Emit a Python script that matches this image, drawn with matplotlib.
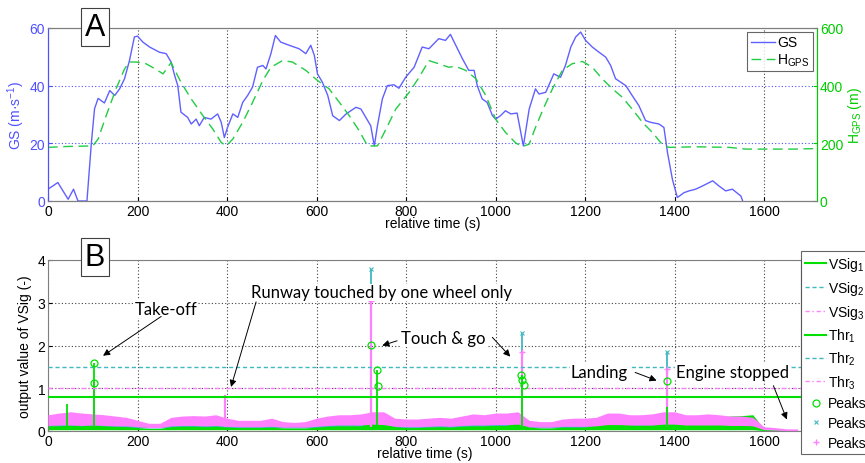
import numpy as np
import matplotlib
matplotlib.use("Agg")
import matplotlib.pyplot as plt

plt.rcParams['font.family'] = ['Liberation Sans', 'DejaVu Sans']
plt.rcParams['mathtext.fontset'] = 'custom'
plt.rcParams['mathtext.rm'] = 'Liberation Sans'
plt.rcParams['mathtext.it'] = 'Liberation Sans:italic'

# ---------------- Panel A data ----------------
gs_t = [0, 22, 45, 57, 67, 87, 97, 104, 112, 126, 138, 149, 160, 171, 182, 193, 200, 212, 227, 249, 264,
        275, 283, 290, 297, 312, 320, 331, 338, 349, 364, 379, 387, 394, 401, 413, 424, 435, 446, 457,
        468, 480, 487, 498, 508, 520, 539, 561, 576, 587, 595, 602, 613, 625, 636, 651, 666, 688, 699,
        710, 721, 729, 736, 747, 758, 773, 784, 799, 818, 836, 851, 873, 888, 899, 911, 926, 940, 952,
        959, 970, 981, 993, 1000, 1011, 1022, 1034, 1048, 1062, 1075, 1089, 1097, 1112, 1130, 1145,
        1156, 1168, 1179, 1190, 1201, 1216, 1231, 1246, 1257, 1268, 1291, 1305, 1320, 1335, 1346, 1365,
        1376, 1384, 1395, 1406, 1421, 1432, 1447, 1462, 1485, 1499, 1514, 1529, 1548, 1552]
gs_v = [4.1, 6.4, 0.6, 4.1, 0, 0, 20.3, 32, 35.6, 34, 38.3, 36.6, 38.9, 42.4, 48.7, 56.9, 57.2, 55.1,
        53.4, 51.6, 51.1, 48.2, 43.5, 40, 30.8, 29, 26.7, 28.4, 26.1, 29, 28.4, 30.2, 27.3, 22, 25.5,
        30.2, 29, 34.2, 36.6, 39.5, 46.4, 47, 45.8, 51.1, 57.4, 55.1, 54, 52.8, 51.1, 54, 50.5, 44.1,
        41.2, 36.6, 29.6, 27.9, 30.2, 32.5, 31.9, 29, 26.1, 19.1, 26.1, 35.4, 40, 40.3, 39.1, 42.9, 46.4,
        53.4, 52.8, 56.3, 55.7, 57.8, 54, 49.3, 45.3, 45.3, 40, 35.4, 34.2, 29.6, 28.4, 29.6, 31.3, 30.2,
        30.5, 19.1, 31.9, 38.9, 37.1, 37.7, 44.1, 42.9, 47, 53.4, 56.9, 58.6, 55.7, 53.4, 51.6, 49.9,
        47, 42.4, 40, 36.6, 33.1, 27.9, 27.3, 26.7, 25.5, 16.8, 7.5, 1.2, 2.9, 3.5, 4.1, 5.2, 7, 5.2,
        3.5, 4.1, 1.7, 0]

h_t = [0, 41, 100, 112, 130, 152, 171, 182, 197, 219, 242, 257, 275, 297, 320, 346, 368, 387, 398,
       413, 435, 457, 480, 498, 524, 546, 576, 602, 628, 651, 673, 695, 714, 736, 755, 777, 807, 829,
       851, 873, 895, 911, 933, 956, 978, 1000, 1022, 1045, 1060, 1075, 1089, 1108, 1127, 1149, 1171,
       1194, 1216, 1238, 1261, 1283, 1305, 1328, 1350, 1372, 1387, 1447, 1522, 1559, 1596, 1671, 1718]
h_v = [186, 189, 191, 215, 296, 389, 458, 482, 482, 476, 456, 441, 480, 412, 354, 296, 250, 203, 191,
       215, 273, 342, 418, 464, 487, 482, 453, 418, 389, 342, 296, 244, 191, 191, 249, 319, 377, 429,
       487, 476, 464, 467, 453, 424, 366, 284, 238, 201, 189, 197, 255, 325, 389, 453, 476, 484, 464,
       424, 389, 360, 319, 273, 238, 197, 186, 188, 186, 180, 180, 180, 182]

# ---------------- Panel B data ----------------
band_t = list(range(0, 1700, 25))
vsig3_hi = [0.38, 0.42, 0.45, 0.42, 0.40, 0.38, 0.35, 0.32, 0.25, 0.18, 0.18, 0.32, 0.35, 0.36, 0.35,
            0.38, 0.30, 0.25, 0.25, 0.25, 0.30, 0.22, 0.20, 0.22, 0.30, 0.35, 0.38, 0.38, 0.40, 0.45,
            0.45, 0.30, 0.28, 0.28, 0.30, 0.32, 0.30, 0.35, 0.40, 0.38, 0.42, 0.42, 0.45, 0.25, 0.22,
            0.22, 0.28, 0.30, 0.30, 0.32, 0.42, 0.42, 0.38, 0.38, 0.40, 0.45, 0.45, 0.38, 0.38, 0.40,
            0.38, 0.35, 0.35, 0.32, 0.10, 0.08, 0.05, 0.05]
vsig3_lo = [0.13, 0.14, 0.14, 0.13, 0.14, 0.13, 0.12, 0.12, 0.10, 0.08, 0.08, 0.12, 0.13, 0.13, 0.12,
            0.13, 0.11, 0.10, 0.10, 0.10, 0.11, 0.09, 0.09, 0.09, 0.11, 0.13, 0.14, 0.14, 0.14, 0.16,
            0.15, 0.11, 0.10, 0.10, 0.11, 0.12, 0.11, 0.13, 0.14, 0.14, 0.15, 0.15, 0.16, 0.10, 0.09,
            0.09, 0.11, 0.11, 0.11, 0.12, 0.15, 0.15, 0.14, 0.14, 0.14, 0.16, 0.16, 0.14, 0.14, 0.14,
            0.14, 0.13, 0.13, 0.12, 0.03, 0.02, 0.01, 0.01]
vsig2_hi = [0.20, 0.20, 0.21, 0.20, 0.20, 0.19, 0.18, 0.17, 0.14, 0.12, 0.12, 0.17, 0.18, 0.18, 0.17,
            0.18, 0.16, 0.14, 0.14, 0.14, 0.16, 0.13, 0.12, 0.13, 0.16, 0.18, 0.20, 0.20, 0.20, 0.24,
            0.22, 0.16, 0.15, 0.15, 0.16, 0.17, 0.16, 0.18, 0.20, 0.20, 0.21, 0.21, 0.24, 0.14, 0.13,
            0.13, 0.16, 0.16, 0.16, 0.17, 0.21, 0.21, 0.20, 0.20, 0.20, 0.24, 0.22, 0.20, 0.20, 0.20,
            0.20, 0.19, 0.19, 0.18, 0.07, 0.05, 0.03, 0.03]
vsig2_lo = [0.07] * 64 + [0.02, 0.01, 0.005, 0.005]
vsig1_hi = [0.12, 0.12, 0.14, 0.12, 0.14, 0.12, 0.11, 0.10, 0.08, 0.06, 0.06, 0.10, 0.11, 0.11, 0.10,
            0.11, 0.09, 0.08, 0.08, 0.08, 0.09, 0.07, 0.07, 0.07, 0.09, 0.11, 0.12, 0.12, 0.12, 0.25,
            0.22, 0.10, 0.08, 0.08, 0.09, 0.10, 0.09, 0.11, 0.12, 0.12, 0.13, 0.13, 0.20, 0.09, 0.07,
            0.07, 0.09, 0.09, 0.09, 0.14, 0.20, 0.18, 0.14, 0.14, 0.14, 0.20, 0.22, 0.30, 0.28, 0.30,
            0.32, 0.35, 0.36, 0.38, 0.05, 0.04, 0.02, 0.02]
vsig1_lo = [0.03] * 64 + [0.01, 0.005, 0.0, 0.0]

sp1_t = [43, 103, 735, 1060, 1383]
sp1_v = [0.62, 1.58, 1.43, 1.30, 0.55]
sp2_t = [103, 722, 1060, 1383]
sp2_v = [0.90, 3.80, 2.30, 1.84]
sp3_t = [103, 395, 722, 1060, 1383]
sp3_v = [1.15, 0.85, 3.05, 1.85, 1.45]

thr1, thr2, thr3 = 0.8, 1.5, 1.0

pk1_t = [103, 103, 722, 735, 738, 1058, 1059, 1063, 1383]
pk1_v = [1.58, 1.12, 2.02, 1.43, 1.05, 1.30, 1.20, 1.07, 1.16]
pk2_t = [722, 1060, 1383]
pk2_v = [3.80, 2.30, 1.84]
pk3_t = [722, 1060, 1383]
pk3_v = [3.05, 1.85, 1.45]

# ---------------- Figure ----------------
W, H = 865, 464
fig = plt.figure(figsize=(W / 100, H / 100), dpi=100)

def fx(px):
    return px / W

def fy(py):
    return 1 - py / H

BLUE = '#5050ff'
GREEN = '#22cc44'
GREEN_AX = '#00cc00'
GRID = '#404040'
SPINE = '#7f7f7f'

# ---- Panel A ----
axA = fig.add_axes([fx(48), fy(202), fx(817) - fx(48), fy(29) - fy(202)])
axA.plot(gs_t, gs_v, color='#6060ff', lw=1.0, label='GS')
axA.set_xlim(0, 1718)
axA.set_ylim(0, 60)
axA.set_yticks([0, 20, 40, 60])
axA.set_xticks(range(0, 1700, 200))
axA.tick_params(axis='y', colors=BLUE, labelsize=10, length=3, direction='in', pad=2)
axA.tick_params(axis='x', labelsize=10, length=3, direction='in', pad=2)
axA.set_ylabel('GS (m·s$^{-1}$)', color=BLUE, fontsize=10, labelpad=2)
axA.set_xlabel('relative time (s)', fontsize=10, labelpad=-1)
axA.grid(axis='x', color=GRID, ls=(0, (1, 2)), lw=0.8)
axA.grid(axis='y', color=BLUE, ls=(0, (1, 2)), lw=0.8)
for s in ['top', 'bottom']:
    axA.spines[s].set_color(SPINE)
axA.spines['left'].set_color(BLUE)
axA.spines['right'].set_color(GREEN_AX)

axA2 = axA.twinx()
axA2.plot(h_t, h_v, color=GREEN, lw=1.0, ls=(0, (7, 4)), label='H$_{\\mathrm{GPS}}$')
axA2.set_ylim(0, 600)
axA2.set_yticks([0, 200, 400, 600])
axA2.tick_params(axis='y', colors=GREEN_AX, labelsize=10, length=3, direction='in', pad=2)
axA2.set_ylabel('H$_{\\mathrm{GPS}}$ (m)', color=GREEN_AX, fontsize=10, labelpad=2)
axA2.spines['right'].set_color(GREEN_AX)
axA2.spines['left'].set_color(BLUE)
axA2.spines['top'].set_color(SPINE)
axA2.spines['bottom'].set_color(SPINE)

hA = axA.get_lines()[:1] + axA2.get_lines()[:1]
legA = axA2.legend(hA, [l.get_label() for l in hA], loc='upper right',
                   bbox_to_anchor=(fx(813), fy(33)), bbox_transform=fig.transFigure,
                   fontsize=10, frameon=True, fancybox=False, edgecolor='#404040',
                   handlelength=1.7, borderpad=0.25, labelspacing=0.15, handletextpad=0.2,
                   borderaxespad=0)
legA.get_frame().set_linewidth(0.8)

fig.text(fx(95), fy(28), 'A', fontsize=22, ha='center', va='center',
         bbox=dict(boxstyle='square,pad=0.12', fc='white', ec='#404040', lw=0.8))

# ---- Panel B ----
axB = fig.add_axes([fx(48), fy(432), fx(800.7) - fx(48), fy(261) - fy(432)])
C1 = '#00e000'
C2 = '#40b8c0'
C3 = '#ff80ff'
axB.fill_between(band_t, vsig2_lo, vsig2_hi, color=C2, lw=0, zorder=2)
axB.fill_between(band_t, vsig3_lo, vsig3_hi, color=C3, lw=0, zorder=3)
axB.fill_between(band_t, vsig1_lo, vsig1_hi, color=C1, lw=0, zorder=2.5)
axB.vlines(sp2_t, 0.1, sp2_v, color=C2, lw=1.3, zorder=3.2)
axB.vlines(sp3_t, 0.1, sp3_v, color=C3, lw=1.6, zorder=3.3)
axB.vlines(sp1_t, 0.1, sp1_v, color=C1, lw=1.3, zorder=3.4)

l1, = axB.plot([], [], color=C1, lw=1.5, label='VSig$_1$')
l2, = axB.plot([], [], color=C2, lw=1.0, ls=(0, (3, 2)), label='VSig$_2$')
l3, = axB.plot([], [], color=C3, lw=1.0, ls=(0, (3, 2, 1, 2)), label='VSig$_3$')
t1 = axB.axhline(thr1, color=C1, lw=1.5, zorder=4, label='Thr$_1$')
t2 = axB.axhline(thr2, color=C2, lw=1.0, ls=(0, (3, 2)), zorder=4, label='Thr$_2$')
t3 = axB.axhline(thr3, color=C3, lw=1.0, ls=(0, (3, 2, 1, 2)), zorder=4, label='Thr$_3$')
p1, = axB.plot(pk1_t, pk1_v, 'o', mfc='none', mec=C1, ms=5, mew=0.9, zorder=6, label='Peaks')
p2, = axB.plot(pk2_t, pk2_v, 'x', color=C2, ms=3, mew=0.8, zorder=6, label='Peaks')
p3, = axB.plot(pk3_t, pk3_v, '+', color=C3, ms=5, mew=1.0, zorder=6, label='Peaks')

axB.set_xlim(0, 1682)
axB.set_ylim(0, 4)
axB.set_yticks([0, 1, 2, 3, 4])
axB.set_xticks(range(0, 1700, 200))
axB.tick_params(labelsize=10, length=3, direction='in', pad=2)
axB.set_ylabel('output value of VSig (-)', fontsize=10, labelpad=4)
axB.set_xlabel('relative time (s)', fontsize=10, labelpad=-1)
axB.grid(color=GRID, ls=(0, (1, 2)), lw=0.8, zorder=1)
axB.set_axisbelow(True)
for s in axB.spines.values():
    s.set_color(SPINE)

legB = axB.legend([l1, l2, l3, t1, t2, t3, p1, p2, p3],
                  ['VSig$_1$', 'VSig$_2$', 'VSig$_3$', 'Thr$_1$', 'Thr$_2$', 'Thr$_3$',
                   'Peaks', 'Peaks', 'Peaks'],
                  loc='upper left', bbox_to_anchor=(fx(801), fy(252)), bbox_transform=fig.transFigure,
                  fontsize=10, frameon=True, fancybox=False, edgecolor='#404040',
                  handlelength=1.5, borderpad=0.3, labelspacing=0.42, handletextpad=0.15,
                  borderaxespad=0)
legB.get_frame().set_linewidth(0.8)

fig.text(fx(95), fy(258), 'B', fontsize=22, ha='center', va='center',
         bbox=dict(boxstyle='square,pad=0.12', fc='white', ec='#404040', lw=0.8))

TF = dict(fontsize=12, family=['Lato', 'DejaVu Sans'], zorder=7)
BB = dict(boxstyle='square,pad=0.05', fc='white', ec='none')
AP = dict(arrowstyle='-|>', color='black', lw=0.7, mutation_scale=10, shrinkA=0, shrinkB=0)

axB.text(263, 2.85, 'Take-off', ha='center', va='center', bbox=BB, **TF)
axB.annotate('', xy=(123, 1.76), xytext=(253, 2.68), arrowprops=AP, zorder=8)
axB.text(746, 3.24, 'Runway touched by one wheel only', ha='center', va='center', bbox=BB, **TF)
axB.annotate('', xy=(409, 1.03), xytext=(465, 3.02), arrowprops=AP, zorder=8)
axB.text(884, 2.17, 'Touch & go', ha='center', va='center', bbox=BB, **TF)
axB.annotate('', xy=(747, 2.0), xytext=(780, 2.11), arrowprops=AP, zorder=8)
axB.annotate('', xy=(1033, 1.74), xytext=(993, 2.19), arrowprops=AP, zorder=8)
axB.text(1232, 1.39, 'Landing', ha='center', va='center', bbox=BB, **TF)
axB.annotate('', xy=(1360, 1.18), xytext=(1312, 1.37), arrowprops=AP, zorder=8)
axB.text(1529, 1.39, 'Engine stopped', ha='center', va='center', bbox=BB, **TF)
axB.annotate('', xy=(1651, 0.27), xytext=(1621, 1.06), arrowprops=AP, zorder=8)

fig.savefig('out.png', dpi=100)
